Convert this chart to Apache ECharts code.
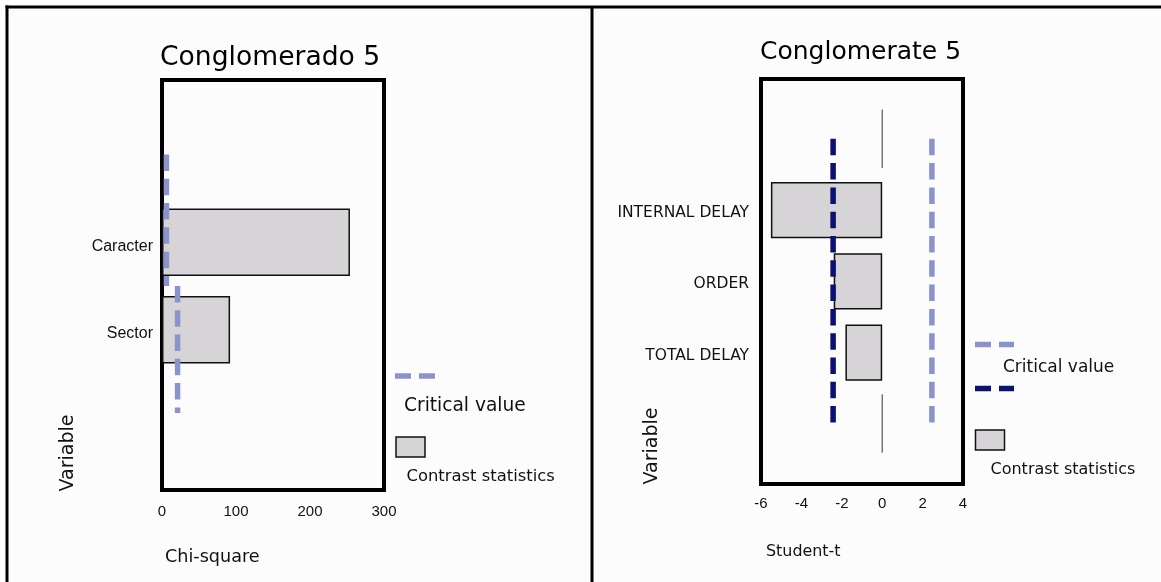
<!DOCTYPE html>
<html>
<head>
<meta charset="utf-8">
<script src="https://cdn.jsdelivr.net/npm/echarts@6/dist/echarts.min.js"></script>
<style>html,body{margin:0;padding:0;background:#fff}#c{width:1161px;height:582px}</style>
</head>
<body>
<div id="c"></div>
<script>
// ---------- DATA ----------
// Left panel: Chi-square contrast (Conglomerado 5)
var leftTitle = 'Conglomerado 5';
var leftCategories = ['Caracter', 'Sector'];
var leftValues = [254, 92];
var leftCritical = [5.99, 21.03];               // critical value per category
var leftCriticalSpan = [[-1, 0.5], [0.5, 1.95]]; // vertical extent (category units)
var leftTicks = [0, 100, 200, 300];
var leftXName = 'Chi-square';

// Right panel: Student-t contrast (Conglomerate 5)
var rightTitle = 'Conglomerate 5';
var rightCategories = ['INTERNAL DELAY', 'ORDER', 'TOTAL DELAY'];
var rightValues = [-5.51, -2.40, -1.82];
var rightCriticalLow = -2.43;
var rightCriticalHigh = 2.46;
var rightCriticalSpan = [-1, 3];
var rightZeroSegments = [[-1.41, -0.59], [2.59, 3.41]];
var rightTicks = [-6, -4, -2, 0, 2, 4];
var rightXName = 'Student-t';

var yName = 'Variable';
var legendCritical = 'Critical value';
var legendContrast = 'Contrast statistics';

// ---------- STYLE ----------
var LIGHT = '#8a93cc', NAVY = '#0b1170', BARFILL = '#d6d4d6';
var GOTHIC = '"DejaVu Sans", sans-serif';
var ARIAL = '"Liberation Sans", Arial, sans-serif';
var DASH = [16.5, 7.8];

function vline(x, span, color, width, dash, xi, yi) {
  return {
    type: 'line', xAxisIndex: xi, yAxisIndex: yi, symbol: 'none', silent: true, z: 5,
    data: [[x, span[0]], [x, span[1]]],
    lineStyle: { color: color, width: width, type: dash ? DASH : 'solid', cap: 'butt' }
  };
}

var chart = echarts.init(document.getElementById('c'), null, { renderer: 'canvas' });

var series = [
  { type: 'bar', xAxisIndex: 1, yAxisIndex: 1, data: leftValues, barCategoryGap: '23%',
    itemStyle: { color: BARFILL, borderColor: '#111', borderWidth: 1.5 }, z: 2 },
  { type: 'bar', xAxisIndex: 3, yAxisIndex: 3, data: rightValues, barCategoryGap: '21%',
    itemStyle: { color: BARFILL, borderColor: '#111', borderWidth: 1.5 }, z: 2 }
];
leftCritical.forEach(function (v, i) { series.push(vline(v, leftCriticalSpan[i], LIGHT, 5.5, true, 0, 0)); });
rightZeroSegments.forEach(function (s) { series.push(vline(0, s, '#333', 1, false, 2, 2)); });
series.push(vline(rightCriticalLow, rightCriticalSpan, NAVY, 5.5, true, 2, 2));
series.push(vline(rightCriticalHigh, rightCriticalSpan, LIGHT, 5.5, true, 2, 2));

var option = {
  backgroundColor: '#ffffff',
  animation: false,
  title: [
    { text: leftTitle, left: 160, top: 45, padding: 0, textStyle: { fontFamily: GOTHIC, fontWeight: 'normal', fontSize: 26.6, color: '#000' } },
    { text: rightTitle, left: 760, top: 40, padding: 0, textStyle: { fontFamily: GOTHIC, fontWeight: 'normal', fontSize: 25, color: '#000' } }
  ],
  grid: [
    { left: 162, top: 80, width: 222, height: 410, show: true, borderColor: '#000', borderWidth: 4, backgroundColor: 'transparent' },
    { left: 162, top: 198.5, width: 222, height: 175, show: false },
    { left: 761, top: 79, width: 202, height: 405, show: true, borderColor: '#000', borderWidth: 4, backgroundColor: 'transparent' },
    { left: 761, top: 174.4, width: 202, height: 213.75, show: false }
  ],
  xAxis: [
    { type: 'value', gridIndex: 0, min: leftTicks[0], max: leftTicks[leftTicks.length - 1], interval: 100,
      axisLine: { show: false }, axisTick: { show: false }, splitLine: { show: false },
      axisLabel: { margin: 14, fontFamily: ARIAL, fontSize: 15, color: '#111' } },
    { type: 'value', gridIndex: 1, min: leftTicks[0], max: leftTicks[leftTicks.length - 1], show: false },
    { type: 'value', gridIndex: 2, min: rightTicks[0], max: rightTicks[rightTicks.length - 1], interval: 2,
      axisLine: { show: false }, axisTick: { show: false }, splitLine: { show: false },
      axisLabel: { margin: 12, fontFamily: ARIAL, fontSize: 15, color: '#111' } },
    { type: 'value', gridIndex: 3, min: rightTicks[0], max: rightTicks[rightTicks.length - 1], show: false }
  ],
  yAxis: [
    { type: 'value', gridIndex: 0, inverse: true, min: -1.85, max: 2.83, show: false },
    { type: 'category', gridIndex: 1, inverse: true, data: leftCategories,
      axisLine: { show: false }, axisTick: { show: false },
      axisLabel: { margin: 9, fontFamily: ARIAL, fontSize: 16, color: '#111', verticalAlign: 'top', lineHeight: 8 } },
    { type: 'value', gridIndex: 2, inverse: true, min: -1.84, max: 3.85, show: false },
    { type: 'category', gridIndex: 3, inverse: true, data: rightCategories,
      axisLine: { show: false }, axisTick: { show: false },
      axisLabel: { margin: 12, fontFamily: GOTHIC, fontSize: 15.5, color: '#111', verticalAlign: 'top', lineHeight: 6 } }
  ],
  series: series,
  graphic: [
    { type: 'rect', shape: { x: 8, y: 8, width: 1153, height: 574 }, style: { fill: '#fcfcfc' }, z: -10, silent: true },
    { type: 'line', shape: { x1: 5.5, y1: 7, x2: 1161, y2: 7 }, style: { stroke: '#000', lineWidth: 3 } },
    { type: 'line', shape: { x1: 7, y1: 5.5, x2: 7, y2: 582 }, style: { stroke: '#000', lineWidth: 3 } },
    { type: 'line', shape: { x1: 592, y1: 7, x2: 592, y2: 582 }, style: { stroke: '#000', lineWidth: 3 } },

    // left axis titles
    { type: 'text', x: 165, y: 557, style: { text: leftXName, fontFamily: GOTHIC, fontSize: 17.6, fill: '#111', textVerticalAlign: 'middle' } },
    { type: 'text', x: 68, y: 453, rotation: Math.PI / 2, style: { text: yName, fontFamily: GOTHIC, fontSize: 19, fill: '#111', textAlign: 'center', textVerticalAlign: 'middle' } },
    // left legend
    { type: 'line', shape: { x1: 395, y1: 376, x2: 435, y2: 376 }, style: { stroke: LIGHT, lineWidth: 5.5, lineDash: [16, 8] } },
    { type: 'text', x: 404, y: 406.5, style: { text: legendCritical, fontFamily: GOTHIC, fontSize: 18.6, fill: '#111', textVerticalAlign: 'middle' } },
    { type: 'rect', shape: { x: 396, y: 437, width: 29, height: 20 }, style: { fill: BARFILL, stroke: '#111', lineWidth: 1.5 } },
    { type: 'text', x: 406.5, y: 477, style: { text: legendContrast, fontFamily: GOTHIC, fontSize: 16.4, fill: '#111', textVerticalAlign: 'middle' } },

    // right axis titles
    { type: 'text', x: 766, y: 552, style: { text: rightXName, fontFamily: GOTHIC, fontSize: 15.9, fill: '#111', textVerticalAlign: 'middle' } },
    { type: 'text', x: 652, y: 446, rotation: Math.PI / 2, style: { text: yName, fontFamily: GOTHIC, fontSize: 19, fill: '#111', textAlign: 'center', textVerticalAlign: 'middle' } },
    // right legend
    { type: 'line', shape: { x1: 975, y1: 344.5, x2: 1014, y2: 344.5 }, style: { stroke: LIGHT, lineWidth: 5.5, lineDash: [16, 8] } },
    { type: 'text', x: 1003, y: 367.5, style: { text: legendCritical, fontFamily: GOTHIC, fontSize: 17, fill: '#111', textVerticalAlign: 'middle' } },
    { type: 'line', shape: { x1: 975, y1: 388.6, x2: 1014, y2: 388.6 }, style: { stroke: NAVY, lineWidth: 5.5, lineDash: [16, 8] } },
    { type: 'rect', shape: { x: 975.5, y: 430, width: 29, height: 20 }, style: { fill: BARFILL, stroke: '#111', lineWidth: 1.5 } },
    { type: 'text', x: 990.5, y: 469.5, style: { text: legendContrast, fontFamily: GOTHIC, fontSize: 16, fill: '#111', textVerticalAlign: 'middle' } }
  ]
};
chart.setOption(option);
</script>
</body>
</html>
